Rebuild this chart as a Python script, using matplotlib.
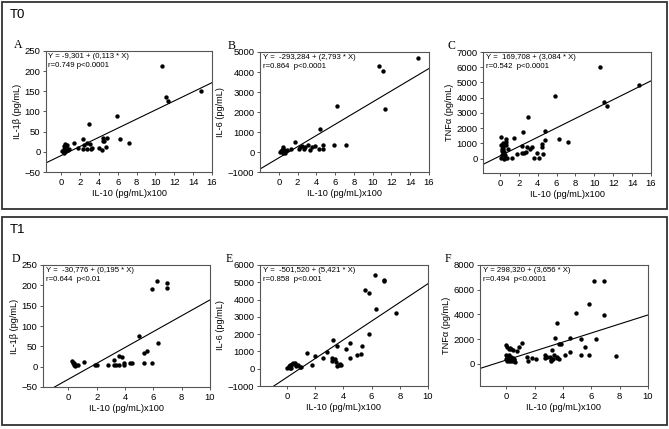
import matplotlib.pyplot as plt
from matplotlib.patches import Rectangle
import numpy as np

plt.rcParams['font.family'] = ['Liberation Sans', 'DejaVu Sans']

# ---- data ----
# T0 panels (x = IL-10 (pg/mL) x100)
a_x = [0.1, 0.2, 0.3, 0.3, 0.4, 0.4, 0.5, 0.5, 0.6, 0.6, 0.7, 0.8, 0.3, 1.4, 1.8, 2.3, 2.3, 2.4, 2.7,
       2.7, 3.0, 3.1, 3.2, 3.3, 4.0, 4.3, 4.4, 4.4, 4.5, 4.8, 4.9, 5.9, 6.2, 7.2, 10.7, 11.1, 11.35, 14.8]
a_y = [1, 3, 8, 15, 5, 20, 12, 2, 18, 8, 4, 6, -3, 21, 9, 33, 8, 17, 21,
       7, 68, 19, 7, 10, 9, 5, 34, 26, 26, 13, 34, 88, 33, 22, 212, 136, 127, 150]

b_x = [0.1, 0.2, 0.3, 0.4, 0.5, 0.6, 0.6, 0.7, 0.4, 0.5, 0.9, 1.25, 1.7, 2.2, 2.3, 2.5, 2.7, 2.8, 3.1,
       3.3, 3.5, 3.9, 4.3, 4.4, 4.7, 4.7, 5.85, 6.2, 7.2, 10.7, 11.1, 11.35, 14.8]
b_y = [20, 50, 80, 150, 230, 0, 80, -30, -60, 30, 110, 150, 517, 133, 267, 317, 150, 250, 350,
       117, 250, 317, 150, 1150, 367, 150, 367, 2283, 367, 4300, 4033, 2150, 4683]

c_x = [0.1, 0.15, 0.2, 0.3, 0.3, 0.35, 0.45, 0.5, 0.55, 0.6, 0.6, 0.65, 0.2, 0.25, 0.3, 0.45, 0.5,
       0.55, 0.7, 0.4, 0.1, 0.2, 0.8, 1.27, 1.48, 1.84, 2.3, 2.33, 2.44, 2.54, 2.72, 2.86, 2.97,
       3.18, 3.36, 3.57, 3.9, 4.17, 4.4, 4.45, 4.56, 4.77, 4.8, 5.87, 6.2, 7.2, 10.6, 11.06, 11.3, 14.7]
c_y = [1444, 40, 220, 400, 530, 700, 880, 1050, 960, 1270, 880, 1100, 650, 870, 1050, 440, 220,
       40, 40, 0, 870, 480, 650, 66, 1335, 306, 832, 394, 1750, 372, 437, 766, 2760,
       656, 744, 44, 394, 66, 960, 740, 330, 1225, 1820, 4110, 1270, 1070, 6000, 3740, 3460, 4860]

# T1 panels
d_x = [0.24, 0.35, 0.4, 0.45, 0.54, 0.64, 0.4, 1.1, 1.84, 2.0, 2.79, 3.24, 3.24, 3.33, 3.55, 3.57,
       3.8, 3.9, 3.9, 4.33, 4.52, 4.96, 5.32, 5.34, 5.58, 5.89, 5.9, 6.29, 6.36, 6.95, 6.95]
d_y = [15, 9, 4, 1, 4, 4, 9, 11, 3, 3, 3, 17, 3, 3, 25, 3,
       24, 9, 3, 9, 10, 75, 8, 33, 38, 8, 191, 211, 57, 206, 194]

e_x = [0.02, 0.12, 0.2, 0.3, 0.38, 0.47, 0.57, 0.62, 0.68, 0.78, 0.9, 1.0, 0.2, 0.33,
       1.42, 1.77, 2.0, 2.58, 2.86, 3.17, 3.17, 3.26, 3.4, 3.5, 3.52, 3.57, 3.7, 3.76, 3.83,
       4.16, 4.44, 4.47, 4.94, 5.25, 5.3, 5.53, 5.84, 5.84, 6.22, 6.29, 6.9, 6.9, 7.75]
e_y = [60, 130, 190, 210, 290, 330, 310, 220, 170, 190, 90, 100, 20, 60,
       885, 211, 711, 596, 980, 596, 442, 1654, 558, 385, 1308, 173, 211, 250, 211,
       1115, 1461, 596, 770, 827, 1327, 4538, 4365, 2000, 5442, 3460, 5135, 5058, 3211]

f_x = [0.0, 0.08, 0.17, 0.26, 0.35, 0.45, 0.0, 0.08, 0.17, 0.26, 0.35, 0.45, 0.54, 0.17, 0.26,
       0.35, 0.45, 0.54, 0.63, 0.08, 0.0, 0.73, 0.87, 1.13, 1.48, 1.57, 1.83, 2.07, 2.7, 2.75,
       2.89, 3.12, 3.15, 3.19, 3.26, 3.26, 3.33, 3.4, 3.45, 3.57, 3.57, 3.6, 3.7, 3.73, 3.85,
       4.15, 4.48, 4.53, 4.93, 5.28, 5.3, 5.56, 5.87, 5.87, 6.2, 6.3, 6.92, 6.92, 7.75]
f_y = [1486, 1324, 1216, 1270, 1216, 1135, 730, 568, 676, 460, 568, 460, 405, 190, 300,
       190, 240, 300, 135, 240, 350, 1000, 1351, 1649, 513, 189, 459, 405, 459, 676,
       568, 568, 189, 297, 351, 1135, 378, 676, 2081, 3324, 459, 568, 1595, 405, 1595,
       676, 2054, 919, 4081, 730, 2000, 1324, 4811, 676, 6676, 2000, 6676, 3973, 595]

# regression: Y = b0 + b1 * X (X in pg/mL, axis in pg/mL x100)
panels = [
    dict(x=a_x, y=a_y, b0=-9.301, b1=0.113, letter='A', ylabel='IL-1β (pg/mL)',
         eq='Y = -9,301 + (0,113 * X)', r='r=0.749 p<0.0001',
         xlim=(-1.6, 16), xt=range(0, 17, 2), ylim=(-50, 250), yt=range(-50, 251, 50),
         px=(46, 212, 51, 172), lx=14),
    dict(x=b_x, y=b_y, b0=-293.284, b1=2.793, letter='B', ylabel='IL-6 (pg/mL)',
         eq='Y =  -293,284 + (2,793 * X)', r='r=0.864  p<0.0001',
         xlim=(-2, 16), xt=range(0, 17, 2), ylim=(-1000, 5000), yt=range(-1000, 5001, 1000),
         px=(260, 429, 52, 172), lx=228),
    dict(x=c_x, y=c_y, b0=169.708, b1=3.084, letter='C', ylabel='TNFα (pg/mL)',
         eq='Y =  169,708 + (3,084 * X)', r='r=0.542  p<0.0001',
         xlim=(-1.8, 16), xt=range(0, 17, 2), ylim=(-950, 7000), yt=range(0, 7001, 1000),
         px=(483, 651, 52, 173), lx=447),
    dict(x=d_x, y=d_y, b0=-30.776, b1=0.195, letter='D', ylabel='IL-1β (pg/mL)',
         eq='Y =  -30,776 + (0,195 * X)', r='r=0.644  p<0.01',
         xlim=(-1.8, 10), xt=range(0, 11, 2), ylim=(-50, 250), yt=range(-50, 251, 50),
         px=(43, 210, 265, 387), lx=12),
    dict(x=e_x, y=e_y, b0=-501.520, b1=5.421, letter='E', ylabel='IL-6 (pg/mL)',
         eq='Y =  -501,520 + (5,421 * X)', r='r=0.858  p<0.001',
         xlim=(-1.9, 10), xt=range(0, 11, 2), ylim=(-1000, 6000), yt=range(-1000, 6001, 1000),
         px=(260, 428, 265, 386), lx=226),
    dict(x=f_x, y=f_y, b0=298.320, b1=3.656, letter='F', ylabel='TNFα (pg/mL)',
         eq='Y = 298,320 + (3,656 * X)', r='r=0.494  p<0.0001',
         xlim=(-1.85, 10), xt=range(0, 11, 2), ylim=(-1800, 8000), yt=range(0, 8001, 2000),
         px=(480, 648, 265, 386), lx=445),
]

W, H = 669, 429
fig = plt.figure(figsize=(W / 100, H / 100), dpi=100)

# outer frames for T0 and T1
for (x0, y0, x1, y1) in [(2, 2, 667, 209), (2, 217, 667, 425)]:
    fig.patches.append(Rectangle((x0 / W, 1 - y1 / H), (x1 - x0) / W, (y1 - y0) / H,
                                 transform=fig.transFigure, fill=False,
                                 edgecolor='#333333', linewidth=1.3))
fig.text(10 / W, 1 - 15 / H, 'T0', fontsize=9.5, va='center', ha='left')
fig.text(10 / W, 1 - 230 / H, 'T1', fontsize=9.5, va='center', ha='left')

for p in panels:
    l, r, t, b = p['px']
    ax = fig.add_axes([l / W, 1 - b / H, (r - l) / W, (b - t) / H])
    ax.scatter(p['x'], p['y'], s=10, color='black', linewidths=0, zorder=3)
    xs = np.array(p['xlim'])
    ax.plot(xs, p['b0'] + p['b1'] * 100 * xs, color='black', lw=0.8)
    ax.set_xlim(p['xlim'])
    ax.set_ylim(p['ylim'])
    ax.set_xticks(list(p['xt']))
    ax.set_yticks(list(p['yt']))
    ax.tick_params(labelsize=6.8, length=2.5, width=0.7, color='#555555', pad=1.5)
    for s in ax.spines.values():
        s.set_color('#555555')
        s.set_linewidth(0.8)
    ax.set_xlabel('IL-10 (pg/mL)x100', fontsize=6.6, labelpad=2)
    ax.set_ylabel(p['ylabel'], fontsize=6.6, labelpad=2)
    ax.text(0.015, 0.985, p['eq'] + '\n' + p['r'], transform=ax.transAxes,
            fontsize=5.6, va='top', ha='left', linespacing=1.5)
    fig.text(p['lx'] / W, 1 - (t - 6) / H, p['letter'], fontsize=8.5,
             family=['Liberation Serif', 'DejaVu Serif'], va='center', ha='left')

fig.savefig('out.png', dpi=100)
